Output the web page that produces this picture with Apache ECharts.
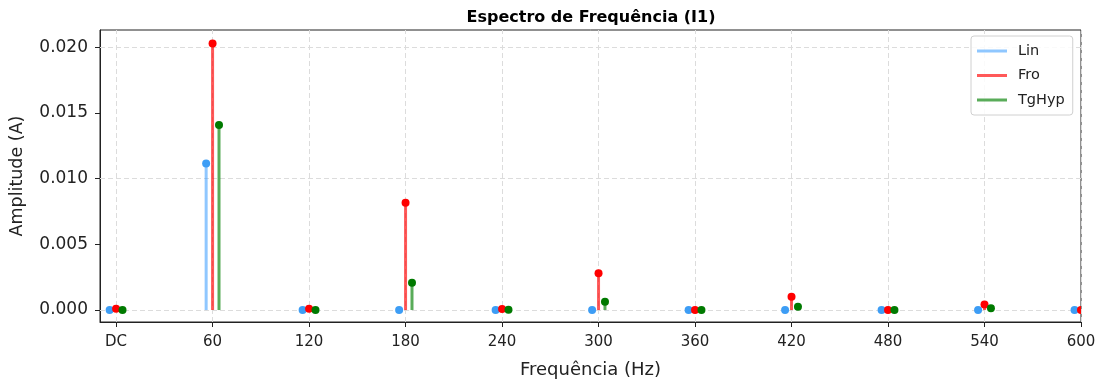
<!DOCTYPE html>
<html>
<head>
<meta charset="utf-8">
<script src="https://cdn.jsdelivr.net/npm/echarts@6/dist/echarts.min.js"></script>
<style>
  html, body { margin: 0; padding: 0; background: #fff; }
  #chart { width: 1101px; height: 383px; }
</style>
</head>
<body>
<div id="chart"></div>
<script>
// Harmonic frequencies (Hz) and tick layout
const freqs = [0, 60, 120, 180, 240, 300, 360, 420, 480, 540, 600];
const xTicks = [0, 60, 120, 180, 240, 300, 360, 420, 480, 540, 600];
const yTicks = [0, 0.005, 0.010, 0.015, 0.020];

// Amplitude (A) of each harmonic, per model
const linAmp    = [0, 0.01115, 0, 0, 0, 0, 0, 0, 0, 0, 0];
const froAmp    = [0.0001, 0.02028, 0.0001, 0.00816, 0.00007, 0.0028, 0, 0.00101, 0, 0.00043, 0];
const tghypAmp  = [0, 0.01407, 0, 0.00208, 0.00002, 0.00063, 0, 0.00025, 0, 0.00013, 0];

function stemSeries(name, values, offset, stemColor, dotColor) {
  return {
    type: 'custom',
    name: name,
    coordinateSystem: 'cartesian2d',
    clip: true,
    z: 3,
    itemStyle: { color: stemColor },
    encode: { x: 0, y: 1 },
    data: freqs.map((f, i) => [f + offset, values[i]]),
    renderItem: function (params, api) {
      const x = api.value(0), v = api.value(1);
      const p0 = api.coord([x, 0]);
      const p1 = api.coord([x, v]);
      return {
        type: 'group',
        children: [
          { type: 'line', shape: { x1: p0[0], y1: p0[1], x2: p1[0], y2: p1[1] },
            style: { stroke: stemColor, lineWidth: 3 } },
          { type: 'circle', shape: { cx: p1[0], cy: p1[1], r: 4 },
            style: { fill: dotColor } }
        ]
      };
    }
  };
}

const chart = echarts.init(document.getElementById('chart'), null, { renderer: 'canvas' });

const font = 'DejaVu Sans';
chart.setOption({
  animation: false,
  backgroundColor: '#fff',
  textStyle: { fontFamily: font },
  title: {
    text: 'Espectro de Frequência (I1)',
    left: 586, top: 5, textAlign: 'center',
    textStyle: { fontFamily: font, fontWeight: 'bold', fontSize: 16, color: '#000' }
  },
  grid: {
    left: 100, right: 20, top: 30, bottom: 61,
    outerBoundsMode: 'none', containLabel: false,
    show: true, borderColor: '#222', borderWidth: 1, backgroundColor: 'transparent'
  },
  legend: {
    orient: 'vertical',
    left: 971, top: 36,
    padding: [7, 8, 7, 6],
    itemGap: 8.5,
    itemWidth: 30, itemHeight: 3,
    icon: 'rect',
    borderColor: '#d0d0d0', borderWidth: 1, borderRadius: 3,
    backgroundColor: 'rgba(255,255,255,0.85)',
    textStyle: { fontFamily: font, fontSize: 14.5, lineHeight: 16, color: '#222', padding: [0, 0, 0, 6] },
    data: [
      { name: 'Lin', itemStyle: { color: 'rgba(51,153,255,0.55)' } },
      { name: 'Fro', itemStyle: { color: 'rgba(255,0,0,0.65)' } },
      { name: 'TgHyp', itemStyle: { color: 'rgba(0,128,0,0.65)' } }
    ]
  },
  xAxis: {
    type: 'value',
    min: -10, max: 600,
    name: 'Frequência (Hz)',
    nameLocation: 'middle', nameGap: 39,
    nameTextStyle: { fontFamily: font, fontSize: 18, color: '#222' },
    axisLine: { onZero: false, lineStyle: { color: '#222', width: 1 } },
    axisTick: { customValues: xTicks, length: 5, lineStyle: { color: '#222' } },
    axisLabel: {
      customValues: xTicks, fontFamily: font, fontSize: 15, color: '#222', margin: 13,
      formatter: v => (v === 0 ? 'DC' : String(v))
    },
    splitLine: { show: false }
  },
  yAxis: {
    type: 'value',
    min: -0.00091, max: 0.0213,
    name: 'Amplitude (A)',
    nameLocation: 'middle', nameGap: 74, nameRotate: 90,
    nameTextStyle: { fontFamily: font, fontSize: 17.5, color: '#222' },
    axisLine: { show: true, onZero: false, lineStyle: { color: '#222', width: 1 } },
    axisTick: { show: true, customValues: yTicks, length: 5, lineStyle: { color: '#222' } },
    axisLabel: {
      customValues: yTicks, fontFamily: font, fontSize: 17, color: '#222', margin: 12,
      formatter: v => v.toFixed(3)
    },
    splitLine: { show: false }
  },
  series: [
    {
      // dashed reference grid at the tick positions
      type: 'line', name: 'grid', data: [], silent: true, z: 1,
      markLine: {
        silent: true, z: 1, symbol: ['none', 'none'], label: { show: false },
        lineStyle: { color: '#dcdcdc', type: [5, 3], width: 1 },
        data: xTicks.map(v => ({ xAxis: v })).concat(yTicks.map(v => ({ yAxis: v })))
      }
    },
    stemSeries('Lin', linAmp, -4, 'rgba(51,153,255,0.55)', '#3d9df5'),
    stemSeries('Fro', froAmp, 0, 'rgba(255,0,0,0.65)', '#ff0000'),
    stemSeries('TgHyp', tghypAmp, 4, 'rgba(0,128,0,0.65)', '#007a00')
  ]
});
</script>
</body>
</html>
